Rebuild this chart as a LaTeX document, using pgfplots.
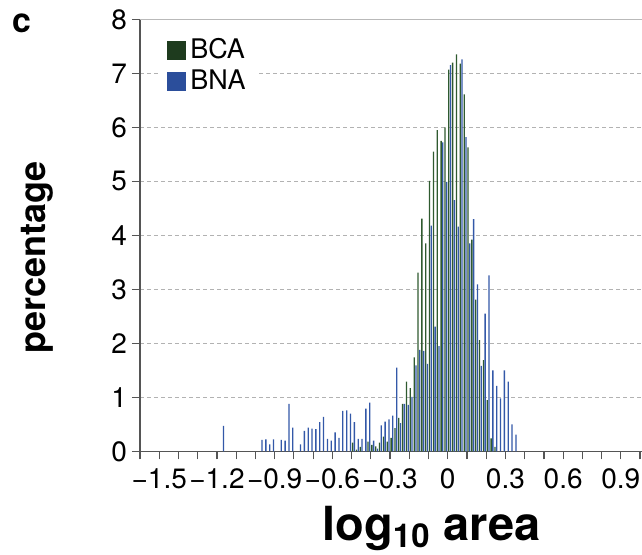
\documentclass[border=0pt]{standalone}
\usepackage{fontspec}
\setmainfont{TeX Gyre Heros}
\usepackage{pgfplots}
\pgfplotsset{compat=1.18}
\usepackage{pgfplotstable}

\definecolor{bcabar}{HTML}{2F5A2F}
\definecolor{bnabar}{HTML}{3358A8}
\definecolor{bcaleg}{HTML}{1E3B1E}
\definecolor{bnaleg}{HTML}{2B4E9B}
\definecolor{axisgray}{HTML}{555555}

% histogram, bin width 0.02, x = bin centre
\pgfplotstableread{
x y
-0.49 0.16
-0.47 0.03
-0.45 0.08
-0.41 0.18
-0.39 0.12
-0.37 0.09
-0.35 0.16
-0.33 0.27
-0.31 0.18
-0.29 0.25
-0.27 0.43
-0.25 0.62
-0.23 0.88
-0.21 1.29
-0.19 1.17
-0.17 1.74
-0.15 3.31
-0.13 4.31
-0.11 3.85
-0.09 5.01
-0.07 5.55
-0.05 5.95
-0.03 5.75
-0.01 6.00
0.01 7.07
0.03 7.20
0.05 7.35
0.07 7.18
0.09 6.61
0.11 5.63
0.13 3.92
0.15 2.81
0.17 2.06
0.19 1.69
0.21 0.95
0.23 0.24
0.25 0.08
}\bcadata

\pgfplotstableread{
x y
-1.17 0.47
-0.97 0.21
-0.95 0.22
-0.93 0.13
-0.91 0.22
-0.87 0.21
-0.85 0.20
-0.83 0.88
-0.81 0.44
-0.77 0.13
-0.75 0.38
-0.73 0.44
-0.71 0.42
-0.69 0.41
-0.67 0.54
-0.65 0.64
-0.63 0.23
-0.61 0.20
-0.59 0.35
-0.57 0.25
-0.55 0.75
-0.53 0.76
-0.51 0.70
-0.49 0.54
-0.47 0.23
-0.45 0.23
-0.43 0.79
-0.41 0.90
-0.39 0.20
-0.37 0.05
-0.35 0.48
-0.33 0.55
-0.31 0.59
-0.29 0.66
-0.27 1.55
-0.25 0.52
-0.23 0.88
-0.21 0.86
-0.19 1.01
-0.17 1.59
-0.15 1.88
-0.13 1.86
-0.11 1.62
-0.09 4.18
-0.07 2.31
-0.05 1.95
-0.03 5.72
-0.01 4.99
0.01 7.15
0.03 4.65
0.05 4.16
0.07 7.26
0.09 5.82
0.11 3.85
0.13 4.30
0.15 3.09
0.17 1.58
0.19 2.55
0.21 3.26
0.23 1.50
0.25 1.21
0.27 0.98
0.29 1.50
0.31 1.29
0.33 0.50
0.35 0.31
}\bnadata

\begin{document}
\begin{tikzpicture}
\path[use as bounding box] (-70pt,-51.35pt) rectangle (251pt,225.65pt);
\begin{axis}[
  at={(0,0)}, anchor=south west,
  scale only axis, width=251pt, height=216pt,
  xmin=-1.6, xmax=1.01, ymin=0, ymax=8,
  axis x line*=bottom, axis y line*=left,
  axis line style={-, draw=axisgray, line width=0.6pt},
  tick align=outside,
  major tick length=4pt, minor tick length=4pt,
  tick style={axisgray, line width=0.6pt},
  ytick={0,1,...,8},
  xtick={-1.5,-1.2,-0.9,-0.6,-0.3,0,0.3,0.6,0.9},
  xticklabels={−1.5,−1.2,−0.9,−0.6,−0.3,0,0.3,0.6,0.9},
  minor xtick={-1.6,-1.4,-1.3,-1.1,-1.0,-0.8,-0.7,-0.5,-0.4,-0.2,-0.1,0.1,0.2,0.4,0.5,0.7,0.8,1.0},
  /pgf/number format/assume math mode=true,
  tick label style={font=\fontsize{14}{14}\selectfont},
  yticklabel style={xshift=1pt},
  xticklabel style={yshift=-1pt},
  ymajorgrids,
  major grid style={gray!60, line width=0.5pt, dash pattern=on 2pt off 1.5pt},
  xlabel={log\textsubscript{10} area},
  xlabel style={at={(rel axis cs:0.5807,-0.2053)}, anchor=base,
    font=\bfseries\fontsize{23.5}{23.5}\selectfont},
  ylabel={percentage},
  ylabel style={at={(rel axis cs:-0.205,0.449)}, anchor=center,
    font=\bfseries\fontsize{18}{18}\selectfont},
  legend style={at={(0.042,0.972)}, anchor=north west, draw=none, fill=white,
    font=\fontsize{13.5}{13.5}\selectfont, row sep=1pt,
    nodes={inner ysep=1.5pt}},
  legend cell align=left,
]
\addlegendimage{legend image code/.code={\fill[bcaleg] (0pt,-4.5pt) rectangle (9pt,4.5pt);}}
\addlegendentry{BCA}
\addlegendimage{legend image code/.code={\fill[bnaleg] (0pt,-4.5pt) rectangle (9pt,4.5pt);}}
\addlegendentry{BNA}
\addplot[ybar, bar width=0.0068, bar shift=-0.0045, fill=bcabar, draw=none, forget plot]
  table {\bcadata};
\addplot[ybar, bar width=0.0068, bar shift=0.0045, fill=bnabar, draw=none, forget plot]
  table {\bnadata};
\draw[gray!55, line width=0.5pt] (rel axis cs:0,1) -- (rel axis cs:1,1);
\end{axis}
\node[anchor=base west, inner sep=0, font=\bfseries\fontsize{17}{17}\selectfont]
  at (-64pt,209.65pt) {c};
\end{tikzpicture}
\end{document}
